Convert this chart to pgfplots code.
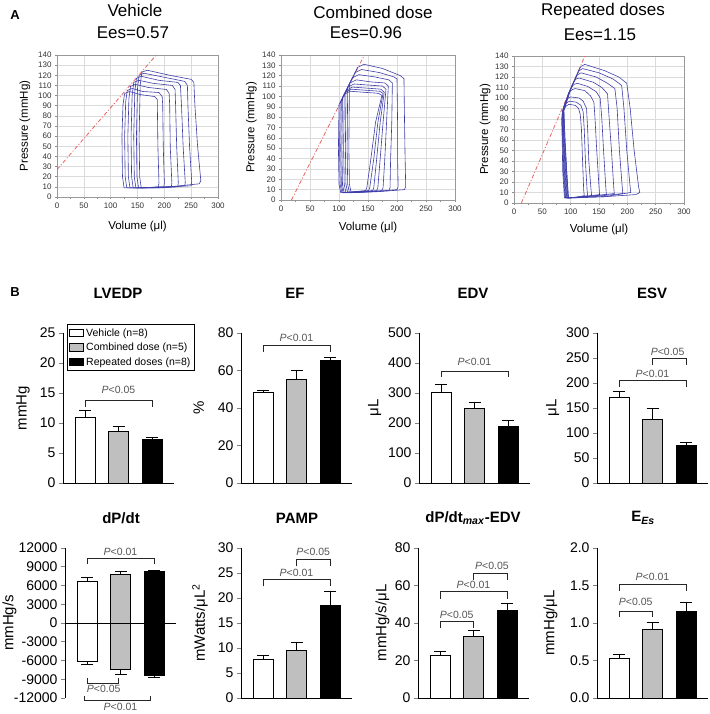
\documentclass[border=0pt]{standalone}
\usepackage{fontspec}
\setmainfont{Liberation Sans}
\usepackage{pgfplots}
\pgfplotsset{compat=1.18}

\definecolor{pvblue}{RGB}{62,62,170}
\definecolor{espvr}{RGB}{232,96,96}
\definecolor{midgray}{RGB}{191,191,191}
\definecolor{ptxt}{RGB}{85,85,85}

\pgfplotsset{
  pv/.style={scale only axis, anchor=south west,
    xmin=0, xmax=300, ymin=0, ymax=140,
    xtick={0,50,...,300}, ytick={0,10,...,140}, minor x tick num=1,
    grid=major, grid style={black!14, line width=0.5pt},
    axis line style={black!40, line width=0.5pt},
    tick pos=left, tick align=outside, major tick length=2pt, minor tick length=2pt,
    tick style={black!45, line width=0.5pt},
    tick label style={font=\fontsize{8}{9}\selectfont, text=black!80},
    /pgf/number format/assume math mode=true,
    xlabel={Volume (μl)}, ylabel={Pressure (mmHg)},
    label style={font=\fontsize{11.5}{13}\selectfont, anchor=center}},
  pvl/.style={draw=pvblue, solid, line width=0.6pt, mark=none},
  es/.style={draw=espvr, line width=0.8pt, mark=none, dash pattern=on 4pt off 2pt on 1pt off 2pt},
  barax/.style={scale only axis, anchor=south west, width=111pt, height=150pt,
    xmin=-0.657, xmax=2.656, axis x line*=bottom, axis y line*=left, xtick=\empty,
    tick align=outside, major tick length=4pt,
    axis line style={line width=0.8pt}, ytick style={line width=0.8pt},
    tick label style={font=\fontsize{14}{15}\selectfont},
    ylabel style={font=\fontsize{15}{16}\selectfont, anchor=center},
    scaled y ticks=false,
    /pgf/number format/assume math mode=true,
    /pgf/number format/set thousands separator={},
    ybar, bar width=0.597, bar shift=0pt, clip=false,
    error bars/y dir=plus, error bars/y explicit,
    error bars/error bar style={line width=0.8pt, black, solid},
    error bars/error mark options={rotate=90, line width=0.8pt, black, mark size=6pt}},
  ylab/.style={ylabel style={at={(axis description cs:-#1,0.5)}}},
  wbar/.style={fill=white, draw=black, line width=0.8pt, bar shift=0pt},
  gbar/.style={fill=midgray, draw=black, line width=0.8pt, bar shift=0pt},
  kbar/.style={fill=black, draw=black, line width=0.8pt, bar shift=0pt},
}
\tikzset{
  brk/.style={black!85, line width=0.7pt},
  pt/.style={font=\fontsize{10.5}{12}\selectfont, text=ptxt, inner sep=1pt},
  ttl/.style={font=\bfseries\fontsize{15}{17}\selectfont},
  big/.style={font=\fontsize{17}{19}\selectfont},
}

\begin{document}
\begin{tikzpicture}
\path[use as bounding box] (0,0) rectangle (709pt,714pt);

% ---------- panel A: PV loops ----------
\node[font=\bfseries\fontsize{13}{15}\selectfont] at (15pt,699pt) {A};
\node[big] at (135pt,704pt) {Vehicle};
\node[big] at (133pt,681pt) {Ees=0.57};
\node[big] at (373pt,702pt) {Combined dose};
\node[big] at (366pt,681pt) {Ees=0.96};
\node[big] at (603pt,703pt) {Repeated doses};
\node[big] at (600pt,679pt) {Ees=1.15};

\begin{axis}[pv, at={(57pt,517pt)}, width=161pt, height=142pt,
  ylabel style={at={(axis description cs:-0.2,0.5)}},
  xlabel style={at={(axis description cs:0.5,-0.21)}}]
\addplot[es] coordinates {(0,27) (185,140)};
\addplot[pvl] coordinates {(157,9) (210,10) (265,13) (268,16) (262,50) (257,90) (255,113) (250,116) (210,120) (168,125) (158,123) (155,110) (153,60) (154,20) (157,9)};
\addplot[pvl] coordinates {(152,9) (200,10) (250,11) (251,15) (247,50) (244,90) (243,110) (238,114) (200,118) (162,122) (153,120) (150,107) (148,60) (149,20) (152,9)};
\addplot[pvl] coordinates {(147,9) (195,9) (238,11) (239,14) (235,50) (232,90) (230,110) (225,113) (190,115) (157,119) (148,117) (145,104) (143,60) (144,20) (147,9)};
\addplot[pvl] coordinates {(142,9) (185,9) (225,10) (226,14) (223,50) (221,90) (220,106) (215,110) (180,112) (152,115) (143,113) (140,100) (138,60) (139,20) (142,9)};
\addplot[pvl] coordinates {(136,9) (175,9) (213,10) (214,14) (211,50) (210,90) (209,102) (204,106) (170,108) (146,111) (137,109) (134,97) (132,60) (133,20) (136,9)};
\addplot[pvl] coordinates {(130,9) (165,9) (199,10) (200,14) (198,50) (197,90) (196,99) (190,103) (160,104) (140,107) (131,105) (128,94) (126,60) (127,20) (130,9)};
\addplot[pvl] coordinates {(125,9) (158,9) (189,10) (190,14) (188,50) (187,90) (187,96) (182,99) (155,101) (135,104) (126,102) (123,91) (121,60) (122,20) (125,9)};
\end{axis}

\begin{axis}[pv, at={(281pt,514pt)}, width=174pt, height=145pt,
  ylabel style={at={(axis description cs:-0.17,0.5)}},
  xlabel style={at={(axis description cs:0.5,-0.19)}}]
\addplot[es] coordinates {(18,0) (142,138)};
\addplot[pvl] coordinates {(121,7) (166,8) (213,10) (215,13) (214,40) (213,75) (212,117) (206,120) (175,127) (143,131) (132,128) (118,112) (117,50) (118,15) (121,7)};
\addplot[pvl] coordinates {(118,7) (158,8) (200,10) (202,13) (201,40) (201,75) (200,117) (194,119) (170,123) (139,126) (128,123) (115,109) (114,50) (115,15) (118,7)};
\addplot[pvl] coordinates {(115,7) (150,8) (186,9) (188,12) (189,40) (191,75) (192,113) (186,116) (160,119) (134,121) (123,118) (112,105) (111,50) (112,15) (115,7)};
\addplot[pvl] coordinates {(112,7) (144,8) (174,9) (176,12) (179,40) (182,75) (185,110) (179,113) (155,114) (130,116) (119,113) (109,102) (108,50) (109,15) (112,7)};
\addplot[pvl] coordinates {(109,7) (138,8) (165,9) (167,12) (171,40) (176,75) (181,107) (175,110) (150,111) (126,112) (115,109) (106,99) (105,50) (106,15) (109,7)};
\addplot[pvl] coordinates {(107,7) (132,8) (158,9) (160,12) (165,40) (171,75) (178,104) (172,107) (148,108) (123,109) (113,106) (104,96) (103,50) (104,15) (107,7)};
\addplot[pvl] coordinates {(105,7) (128,8) (151,9) (153,12) (160,40) (167,75) (176,103) (170,105) (145,106) (121,107) (111,104) (102,94) (101,50) (102,15) (105,7)};
\addplot[pvl] coordinates {(103,7) (125,8) (146,9) (148,12) (155,40) (163,75) (174,101) (168,103) (143,104) (119,105) (109,102) (100,92) (99,50) (100,15) (103,7)};
\end{axis}

\begin{axis}[pv, at={(514pt,511pt)}, width=170pt, height=147pt,
  ylabel style={at={(axis description cs:-0.17,0.5)}},
  xlabel style={at={(axis description cs:0.5,-0.18)}}]
\addplot[es] coordinates {(13,0) (125,140)};
\addplot[pvl] coordinates {(125,132) (160,126) (185,120) (199,114) (205,90) (212,50) (220,15) (222,10) (215,8) (160,6) (100,5) (96,5) (93,30) (90,60) (88,88) (100,108) (113,125) (118,130) (125,132)};
\addplot[pvl] coordinates {(121,128) (150,124) (175,118) (190,112) (194,90) (199,50) (205,15) (206,10) (160,6) (100,5) (96,5) (93,30) (90,60) (88,88) (98,106) (110,121) (115,126) (121,128)};
\addplot[pvl] coordinates {(118,124) (145,120) (165,114) (178,109) (182,90) (186,50) (191,15) (192,9) (140,6) (99,5) (95,5) (92,30) (89,60) (87,88) (97,105) (107,117) (112,122) (118,124)};
\addplot[pvl] coordinates {(115,119) (140,115) (155,110) (165,104) (168,80) (172,50) (176,15) (177,9) (130,6) (98,5) (94,5) (91,30) (88,60) (87,88) (96,104) (104,114) (109,118) (115,119)};
\addplot[pvl] coordinates {(112,114) (130,111) (145,106) (152,100) (155,80) (158,50) (162,15) (163,8) (125,6) (97,5) (93,5) (90,30) (88,60) (86,88) (95,102) (101,110) (106,113) (112,114)};
\addplot[pvl] coordinates {(108,109) (125,107) (135,102) (141,96) (143,80) (146,50) (150,15) (151,8) (120,6) (96,5) (92,5) (89,30) (87,60) (86,88) (94,101) (98,106) (103,108) (108,109)};
\addplot[pvl] coordinates {(100,101) (115,100) (122,97) (128,90) (130,70) (132,40) (136,12) (137,7) (115,5) (95,5) (91,5) (88,30) (86,60) (85,85) (88,92) (92,98) (96,100) (100,101)};
\addplot[pvl] coordinates {(98,97) (110,96) (118,93) (122,87) (124,70) (126,40) (129,12) (130,7) (110,5) (94,5) (90,5) (87,30) (86,60) (85,84) (88,91) (92,95) (98,97)};
\addplot[pvl] coordinates {(97,94) (108,93) (114,90) (117,84) (119,70) (121,40) (123,12) (124,7) (105,5) (93,5) (89,5) (86,30) (85,60) (84,80) (87,88) (91,92) (97,94)};
\end{axis}

% ---------- panel B: bar charts ----------
\node[font=\bfseries\fontsize{13}{15}\selectfont] at (15pt,422pt) {B};
\node[ttl] at (118pt,421pt) {LVEDP};
\node[ttl] at (295pt,421pt) {EF};
\node[ttl] at (473pt,421pt) {EDV};
\node[ttl] at (652pt,421pt) {ESV};
\node[ttl] at (121pt,196pt) {dP/dt};
\node[ttl] at (297pt,196pt) {PAMP};
\node[ttl] at (473pt,196pt) {dP/dt\textsubscript{\textit{max}}-EDV};
\node[ttl] at (643pt,196pt) {E\textsubscript{\textit{Es}}};

% LVEDP
\begin{axis}[barax, at={(63pt,231pt)}, ymin=0, ymax=25, ytick={0,5,...,25},
  ylabel={mmHg}, ylab=0.36,
  legend style={at={(axis description cs:0.036,1.06)}, anchor=north west,
    draw=black, line width=0.8pt, font=\fontsize{10.5}{12}\selectfont,
    row sep=1.5pt, inner sep=2pt, cells={anchor=west}}]
\addplot[wbar, legend image code/.code={\draw[fill=white,draw=black,line width=0.8pt] (0pt,-3.5pt) rectangle (14pt,4pt);}] coordinates {(0,11) +- (0,1.1)};
\addlegendentry{Vehicle (n=8)}
\addplot[gbar, legend image code/.code={\draw[fill=midgray,draw=black,line width=0.8pt] (0pt,-3.5pt) rectangle (14pt,4pt);}] coordinates {(1,8.6) +- (0,0.8)};
\addlegendentry{Combined dose (n=5)}
\addplot[kbar, legend image code/.code={\draw[fill=black,draw=black,line width=0.8pt] (0pt,-3.5pt) rectangle (14pt,4pt);}] coordinates {(2,7.2) +- (0,0.45)};
\addlegendentry{Repeated doses (n=8)}
\draw[brk] (axis cs:0,12.7) |- (axis cs:2,13.8) -- (axis cs:2,12.7);
\node[pt] at (axis cs:1,15.6) {\textit{P}<0.05};
\end{axis}

% EF
\begin{axis}[barax, at={(241pt,231pt)}, ymin=0, ymax=80, ytick={0,20,...,80},
  ylabel={\%}, ylab=0.38]
\addplot[wbar] coordinates {(0,48.2) +- (0,1.4)};
\addplot[gbar] coordinates {(1,55.3) +- (0,4.6)};
\addplot[kbar] coordinates {(2,65.2) +- (0,1.6)};
\draw[brk] (axis cs:0,70) |- (axis cs:2,73.6) -- (axis cs:2,70);
\node[pt] at (axis cs:1,77.5) {\textit{P}<0.01};
\end{axis}

% EDV
\begin{axis}[barax, at={(419pt,231pt)}, ymin=0, ymax=500, ytick={0,100,...,500},
  ylabel={μL}, ylab=0.40]
\addplot[wbar] coordinates {(0,303) +- (0,27)};
\addplot[gbar] coordinates {(1,248) +- (0,22)};
\addplot[kbar] coordinates {(2,189) +- (0,20)};
\draw[brk] (axis cs:0,353) |- (axis cs:2,373) -- (axis cs:2,353);
\node[pt] at (axis cs:1,403) {\textit{P}<0.01};
\end{axis}

% ESV
\begin{axis}[barax, at={(597pt,231pt)}, ymin=0, ymax=300, ytick={0,50,...,300},
  ylabel={μL}, ylab=0.40]
\addplot[wbar] coordinates {(0,172) +- (0,12)};
\addplot[gbar] coordinates {(1,128) +- (0,22)};
\addplot[kbar] coordinates {(2,75) +- (0,7)};
\draw[brk] (axis cs:0,192) |- (axis cs:2,206) -- (axis cs:2,192);
\node[pt] at (axis cs:1,219) {\textit{P}<0.01};
\draw[brk] (axis cs:1,235) |- (axis cs:2,250) -- (axis cs:2,235);
\node[pt] at (axis cs:1.45,263) {\textit{P}<0.05};
\end{axis}

% dP/dt
\begin{axis}[barax, at={(65pt,16pt)}, ymin=-12000, ymax=12000,
  ytick={-12000,-9000,...,12000}, axis x line=none,
  ylabel={mmHg/s}, ylab=0.50]
\addplot[wbar] coordinates {(0,6670) +- (0,690)};
\addplot[gbar] coordinates {(1,7730) +- (0,590)};
\addplot[kbar] coordinates {(2,8210) +- (0,200)};
\addplot[wbar, error bars/y dir=minus] coordinates {(0,-6190) +- (0,480)};
\addplot[gbar, error bars/y dir=minus] coordinates {(1,-7360) +- (0,800)};
\addplot[kbar, error bars/y dir=minus] coordinates {(2,-8430) +- (0,260)};
\draw[black, line width=0.8pt] (axis cs:-0.657,0) -- (axis cs:2.656,0);
\draw[brk] (axis cs:0,9400) |- (axis cs:2,10400) -- (axis cs:2,9400);
\node[pt] at (axis cs:1,11300) {\textit{P}<0.01};
\draw[brk] (axis cs:0,-8800) |- (axis cs:0.95,-9600) -- (axis cs:0.95,-8800);
\node[pt] at (axis cs:0.5,-10600) {\textit{P}<0.05};
\draw[brk] (axis cs:-0.08,-11650) |- (axis cs:1.9,-12450) -- (axis cs:1.9,-11650);
\node[pt] at (axis cs:1,-13500) {\textit{P}<0.01};
\end{axis}

% PAMP
\begin{axis}[barax, at={(241pt,16pt)}, ymin=0, ymax=30, ytick={0,5,...,30},
  ylabel={mWatts/μL\textsuperscript{2}}, ylab=0.37]
\addplot[wbar] coordinates {(0,7.8) +- (0,0.8)};
\addplot[gbar] coordinates {(1,9.5) +- (0,1.6)};
\addplot[kbar] coordinates {(2,18.5) +- (0,2.9)};
\draw[brk] (axis cs:0,22.3) |- (axis cs:2,23.8) -- (axis cs:2,22.3);
\node[pt] at (axis cs:1,25.1) {\textit{P}<0.01};
\draw[brk] (axis cs:1,26.3) |- (axis cs:2,27.8) -- (axis cs:2,26.3);
\node[pt] at (axis cs:1.5,29.2) {\textit{P}<0.05};
\end{axis}

% dP/dt max - EDV
\begin{axis}[barax, at={(418pt,16pt)}, ymin=0, ymax=80, ytick={0,20,...,80},
  ylabel={mmHg/s/μL}, ylab=0.32]
\addplot[wbar] coordinates {(0,22.9) +- (0,2.1)};
\addplot[gbar] coordinates {(1,32.7) +- (0,3.6)};
\addplot[kbar] coordinates {(2,46.6) +- (0,3.9)};
\draw[brk] (axis cs:0,37.3) |- (axis cs:1,40.7) -- (axis cs:1,37.3);
\node[pt] at (axis cs:0.5,44.3) {\textit{P}<0.05};
\draw[brk] (axis cs:0,53) |- (axis cs:2,56.7) -- (axis cs:2,53);
\node[pt] at (axis cs:1,60.3) {\textit{P}<0.01};
\draw[brk] (axis cs:1,62.9) |- (axis cs:2,66.5) -- (axis cs:2,62.9);
\node[pt] at (axis cs:1.55,70.4) {\textit{P}<0.05};
\end{axis}

% E_Es
\begin{axis}[barax, at={(597pt,16pt)}, ymin=0, ymax=2, ytick={0,0.5,...,2},
  yticklabel style={/pgf/number format/.cd, fixed, fixed zerofill, precision=1},
  ylabel={mmHg/μL}, ylab=0.42]
\addplot[wbar] coordinates {(0,0.53) +- (0,0.05)};
\addplot[gbar] coordinates {(1,0.91) +- (0,0.10)};
\addplot[kbar] coordinates {(2,1.16) +- (0,0.12)};
\draw[brk] (axis cs:0,1.08) |- (axis cs:1,1.16) -- (axis cs:1,1.08);
\node[pt] at (axis cs:0.5,1.28) {\textit{P}<0.05};
\draw[brk] (axis cs:0,1.43) |- (axis cs:2,1.51) -- (axis cs:2,1.43);
\node[pt] at (axis cs:1,1.61) {\textit{P}<0.01};
\end{axis}
\end{tikzpicture}
\end{document}
